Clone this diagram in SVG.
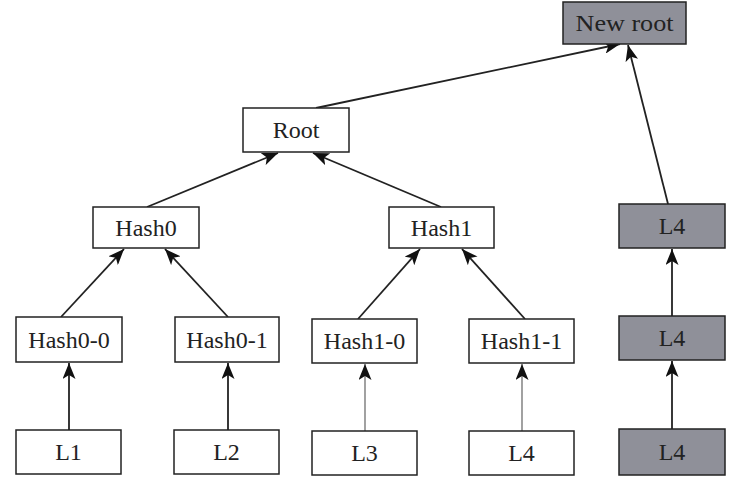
<svg xmlns="http://www.w3.org/2000/svg" width="735" height="478" viewBox="0 0 735 478">
<style>
.box{fill:#fff;stroke:#222;stroke-width:1.5}
.gray{fill:#8f9099;stroke:#222;stroke-width:1.5}
text{font-family:"Liberation Serif","Times New Roman",serif;font-size:24px;fill:#222;text-anchor:middle}
.c{stroke:#222;stroke-width:1.8;fill:none;marker-end:url(#ah)}
.t{stroke:#555;stroke-width:1.1;fill:none;marker-end:url(#ah)}
</style>
<defs>
<marker id="ah" viewBox="0 0 16 13" refX="16" refY="6.5" markerWidth="16" markerHeight="13" markerUnits="userSpaceOnUse" orient="auto">
<path d="M0,0 L16,6.5 L0,13 L4,6.5 Z" fill="#111"/>
</marker>
</defs>
<g id="connectors">
<line class="c" x1="316" y1="108" x2="620" y2="44"/>
<line class="c" x1="668" y1="204" x2="628" y2="45"/>
<line class="c" x1="147" y1="207" x2="278" y2="153"/>
<line class="c" x1="441" y1="207" x2="313" y2="153"/>
<line class="c" x1="61" y1="317" x2="124" y2="249"/>
<line class="c" x1="228" y1="317" x2="165" y2="249"/>
<line class="c" x1="358" y1="319" x2="420" y2="249"/>
<line class="c" x1="525" y1="319" x2="462" y2="249"/>
<line class="c" x1="69" y1="430" x2="69" y2="363"/>
<line class="c" x1="228" y1="430" x2="228" y2="363"/>
<line class="t" x1="365" y1="431" x2="365" y2="364"/>
<line class="t" x1="522" y1="431" x2="522" y2="364"/>
<line class="c" x1="672" y1="316" x2="672" y2="249"/>
<line class="c" x1="672" y1="429" x2="672" y2="361"/>
</g>
<g id="newroot"><rect class="gray" x="563" y="2" width="123" height="42"/><text x="624.5" y="31" textLength="98" lengthAdjust="spacingAndGlyphs">New root</text></g>
<g id="root"><rect class="box" x="243" y="108" width="106" height="44"/><text x="296" y="138">Root</text></g>
<g id="hash0"><rect class="box" x="93" y="207" width="106" height="41"/><text x="146" y="236">Hash0</text></g>
<g id="hash1"><rect class="box" x="389" y="207" width="105" height="41"/><text x="441.5" y="236">Hash1</text></g>
<g id="hash00"><rect class="box" x="16" y="317" width="106" height="45"/><text x="69" y="348">Hash0-0</text></g>
<g id="hash01"><rect class="box" x="175" y="317" width="104" height="45"/><text x="227" y="348">Hash0-1</text></g>
<g id="hash10"><rect class="box" x="312" y="319" width="105" height="44"/><text x="364.5" y="349">Hash1-0</text></g>
<g id="hash11"><rect class="box" x="469" y="319" width="105" height="44"/><text x="521.5" y="349">Hash1-1</text></g>
<g id="l1"><rect class="box" x="16" y="430" width="105" height="44"/><text x="68.5" y="460">L1</text></g>
<g id="l2"><rect class="box" x="174" y="430" width="105" height="44"/><text x="226.5" y="460">L2</text></g>
<g id="l3"><rect class="box" x="312" y="431" width="105" height="44"/><text x="364.5" y="461">L3</text></g>
<g id="l4"><rect class="box" x="469" y="431" width="105" height="44"/><text x="521.5" y="461">L4</text></g>
<g id="g4a"><rect class="gray" x="619" y="204" width="106" height="44"/><text x="672" y="234">L4</text></g>
<g id="g4b"><rect class="gray" x="619" y="316" width="106" height="44"/><text x="672" y="346">L4</text></g>
<g id="g4c"><rect class="gray" x="619" y="429" width="106" height="46"/><text x="672" y="460">L4</text></g>
</svg>
